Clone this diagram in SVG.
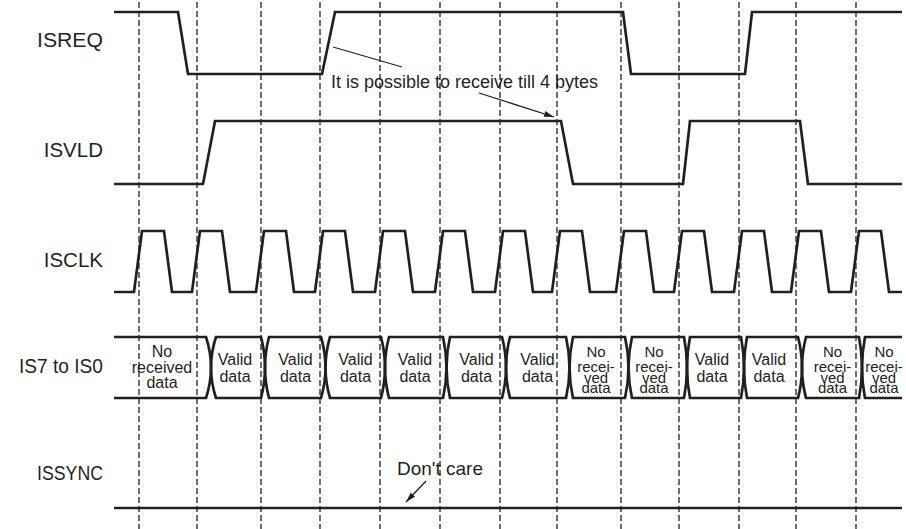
<svg xmlns="http://www.w3.org/2000/svg" width="906" height="529" viewBox="0 0 906 529">
<defs>
<style>
.grid{stroke:#231f20;stroke-width:1.3;stroke-dasharray:6 3;fill:none}
.sig{stroke:#231f20;stroke-width:2.7;fill:none;stroke-linejoin:miter}
.lbl{font-family:"Liberation Sans",Arial,sans-serif;font-size:20.5px;fill:#231f20;text-anchor:end}
.dt{font-family:"Liberation Sans",Arial,sans-serif;font-size:16px;fill:#231f20;text-anchor:middle}
.dn{font-family:"Liberation Sans",Arial,sans-serif;font-size:15px;fill:#231f20;text-anchor:middle}
.ann{font-family:"Liberation Sans",Arial,sans-serif;font-size:18px;fill:#231f20}
.lead{stroke:#231f20;stroke-width:1.3;fill:none}
</style>
<marker id="ah" viewBox="0 0 10 6" refX="10" refY="3" markerWidth="10" markerHeight="6" markerUnits="userSpaceOnUse" orient="auto">
<path d="M0,0 L10,3 L0,6 Z" fill="#231f20"/>
</marker>
</defs>
<rect width="906" height="529" fill="#ffffff"/>
<g id="grid" class="grid">
<line x1="139" y1="2" x2="139" y2="529"/>
<line x1="197" y1="2" x2="197" y2="529"/>
<line x1="261" y1="2" x2="261" y2="529"/>
<line x1="320" y1="2" x2="320" y2="529"/>
<line x1="380" y1="2" x2="380" y2="529"/>
<line x1="440" y1="2" x2="440" y2="529"/>
<line x1="500" y1="2" x2="500" y2="529"/>
<line x1="557" y1="2" x2="557" y2="529"/>
<line x1="621" y1="2" x2="621" y2="529"/>
<line x1="679" y1="2" x2="679" y2="529"/>
<line x1="739" y1="2" x2="739" y2="529"/>
<line x1="796" y1="2" x2="796" y2="529"/>
<line x1="856" y1="2" x2="856" y2="529"/>
</g>
<g id="isreq">
<text class="lbl" x="103" y="47" textLength="66" lengthAdjust="spacingAndGlyphs">ISREQ</text>
<path class="sig" d="M114,12 H178 L188,74 H322 L335,12 H623 L631,74 H745 L752,12 H902"/>
</g>
<g id="isvld">
<text class="lbl" x="103" y="157">ISVLD</text>
<path class="sig" d="M114,184 H203 L215,121 H561 L573,184 H683 L690,121 H800 L808,184 H902"/>
</g>
<g id="isclk">
<text class="lbl" x="103" y="267">ISCLK</text>
<path class="sig" d="M114,292 H134 L142,231 H164 L172,292 H192 L200,231 H222 L230,292 H256 L264,231 H286 L294,292 H315 L323,231 H345 L353,292 H375 L383,231 H405 L413,292 H435 L443,231 H465 L473,292 H495 L503,231 H525 L533,292 H552 L560,231 H582 L590,292 H616 L624,231 H646 L654,292 H674 L682,231 H704 L712,292 H734 L742,231 H764 L772,292 H791 L799,231 H821 L829,292 H851 L859,231 H881 L889,292 H902"/>
</g>
<g id="is7_is0">
<text class="lbl" x="103" y="373" textLength="84" lengthAdjust="spacingAndGlyphs">IS7 to IS0</text>
<path class="sig" d="M114,337 H206 Q216,367.5 206,398 H114"/>
<path class="sig" d="M216,337 H261 Q269,367.5 261,398 H216 Q206,367.5 216,337 Z"/>
<path class="sig" d="M269,337 H321 Q330,367.5 321,398 H269 Q261,367.5 269,337 Z"/>
<path class="sig" d="M330,337 H381 Q389,367.5 381,398 H330 Q321,367.5 330,337 Z"/>
<path class="sig" d="M389,337 H443 Q450,367.5 443,398 H389 Q381,367.5 389,337 Z"/>
<path class="sig" d="M450,337 H502 Q510,367.5 502,398 H450 Q443,367.5 450,337 Z"/>
<path class="sig" d="M510,337 H566 Q573,367.5 566,398 H510 Q502,367.5 510,337 Z"/>
<path class="sig" d="M573,337 H625 Q632,367.5 625,398 H573 Q566,367.5 573,337 Z"/>
<path class="sig" d="M632,337 H684 Q690,367.5 684,398 H632 Q625,367.5 632,337 Z"/>
<path class="sig" d="M690,337 H741 Q747,367.5 741,398 H690 Q684,367.5 690,337 Z"/>
<path class="sig" d="M747,337 H798 Q806,367.5 798,398 H747 Q741,367.5 747,337 Z"/>
<path class="sig" d="M806,337 H859 Q865,367.5 859,398 H806 Q798,367.5 806,337 Z"/>
<path class="sig" d="M902,337 H865 Q859,367.5 865,398 H902"/>
<text class="dt" x="162" y="357">No</text>
<text class="dt" x="162" y="373">received</text>
<text class="dt" x="162" y="388">data</text>
<text class="dt" x="235" y="365">Valid</text><text class="dt" x="235" y="382">data</text>
<text class="dt" x="295.5" y="365">Valid</text><text class="dt" x="295.5" y="382">data</text>
<text class="dt" x="355.5" y="365">Valid</text><text class="dt" x="355.5" y="382">data</text>
<text class="dt" x="415" y="365">Valid</text><text class="dt" x="415" y="382">data</text>
<text class="dt" x="476.5" y="365">Valid</text><text class="dt" x="476.5" y="382">data</text>
<text class="dt" x="537.5" y="365">Valid</text><text class="dt" x="537.5" y="382">data</text>
<text class="dn" x="596" y="357">No</text><text class="dn" x="596" y="372">recei-</text><text class="dn" x="596" y="382.5">ved</text><text class="dn" x="596" y="393">data</text>
<text class="dn" x="654" y="357">No</text><text class="dn" x="654" y="372">recei-</text><text class="dn" x="654" y="382.5">ved</text><text class="dn" x="654" y="393">data</text>
<text class="dt" x="712" y="365">Valid</text><text class="dt" x="712" y="382">data</text>
<text class="dt" x="769" y="365">Valid</text><text class="dt" x="769" y="382">data</text>
<text class="dn" x="832.5" y="357">No</text><text class="dn" x="832.5" y="372">recei-</text><text class="dn" x="832.5" y="382.5">ved</text><text class="dn" x="832.5" y="393">data</text>
<text class="dn" x="884" y="357">No</text><text class="dn" x="884" y="372">recei-</text><text class="dn" x="884" y="382.5">ved</text><text class="dn" x="884" y="393">data</text>
</g>
<g id="issync">
<text class="lbl" x="103" y="480" textLength="66" lengthAdjust="spacingAndGlyphs">ISSYNC</text>
<path class="sig" d="M114,508 H902"/>
</g>
<g id="annotations">
<text class="ann" x="331" y="88">It is possible to receive till 4 bytes</text>
<text class="ann" x="397" y="475" style="font-size:19px">Don't care</text>
</g>
<g id="connectors">
<line class="lead" x1="333" y1="47" x2="402" y2="67"/>
<line class="lead" x1="479" y1="93" x2="554" y2="117" marker-end="url(#ah)"/>
<line class="lead" x1="426" y1="481" x2="406" y2="502" marker-end="url(#ah)"/>
</g>
</svg>
